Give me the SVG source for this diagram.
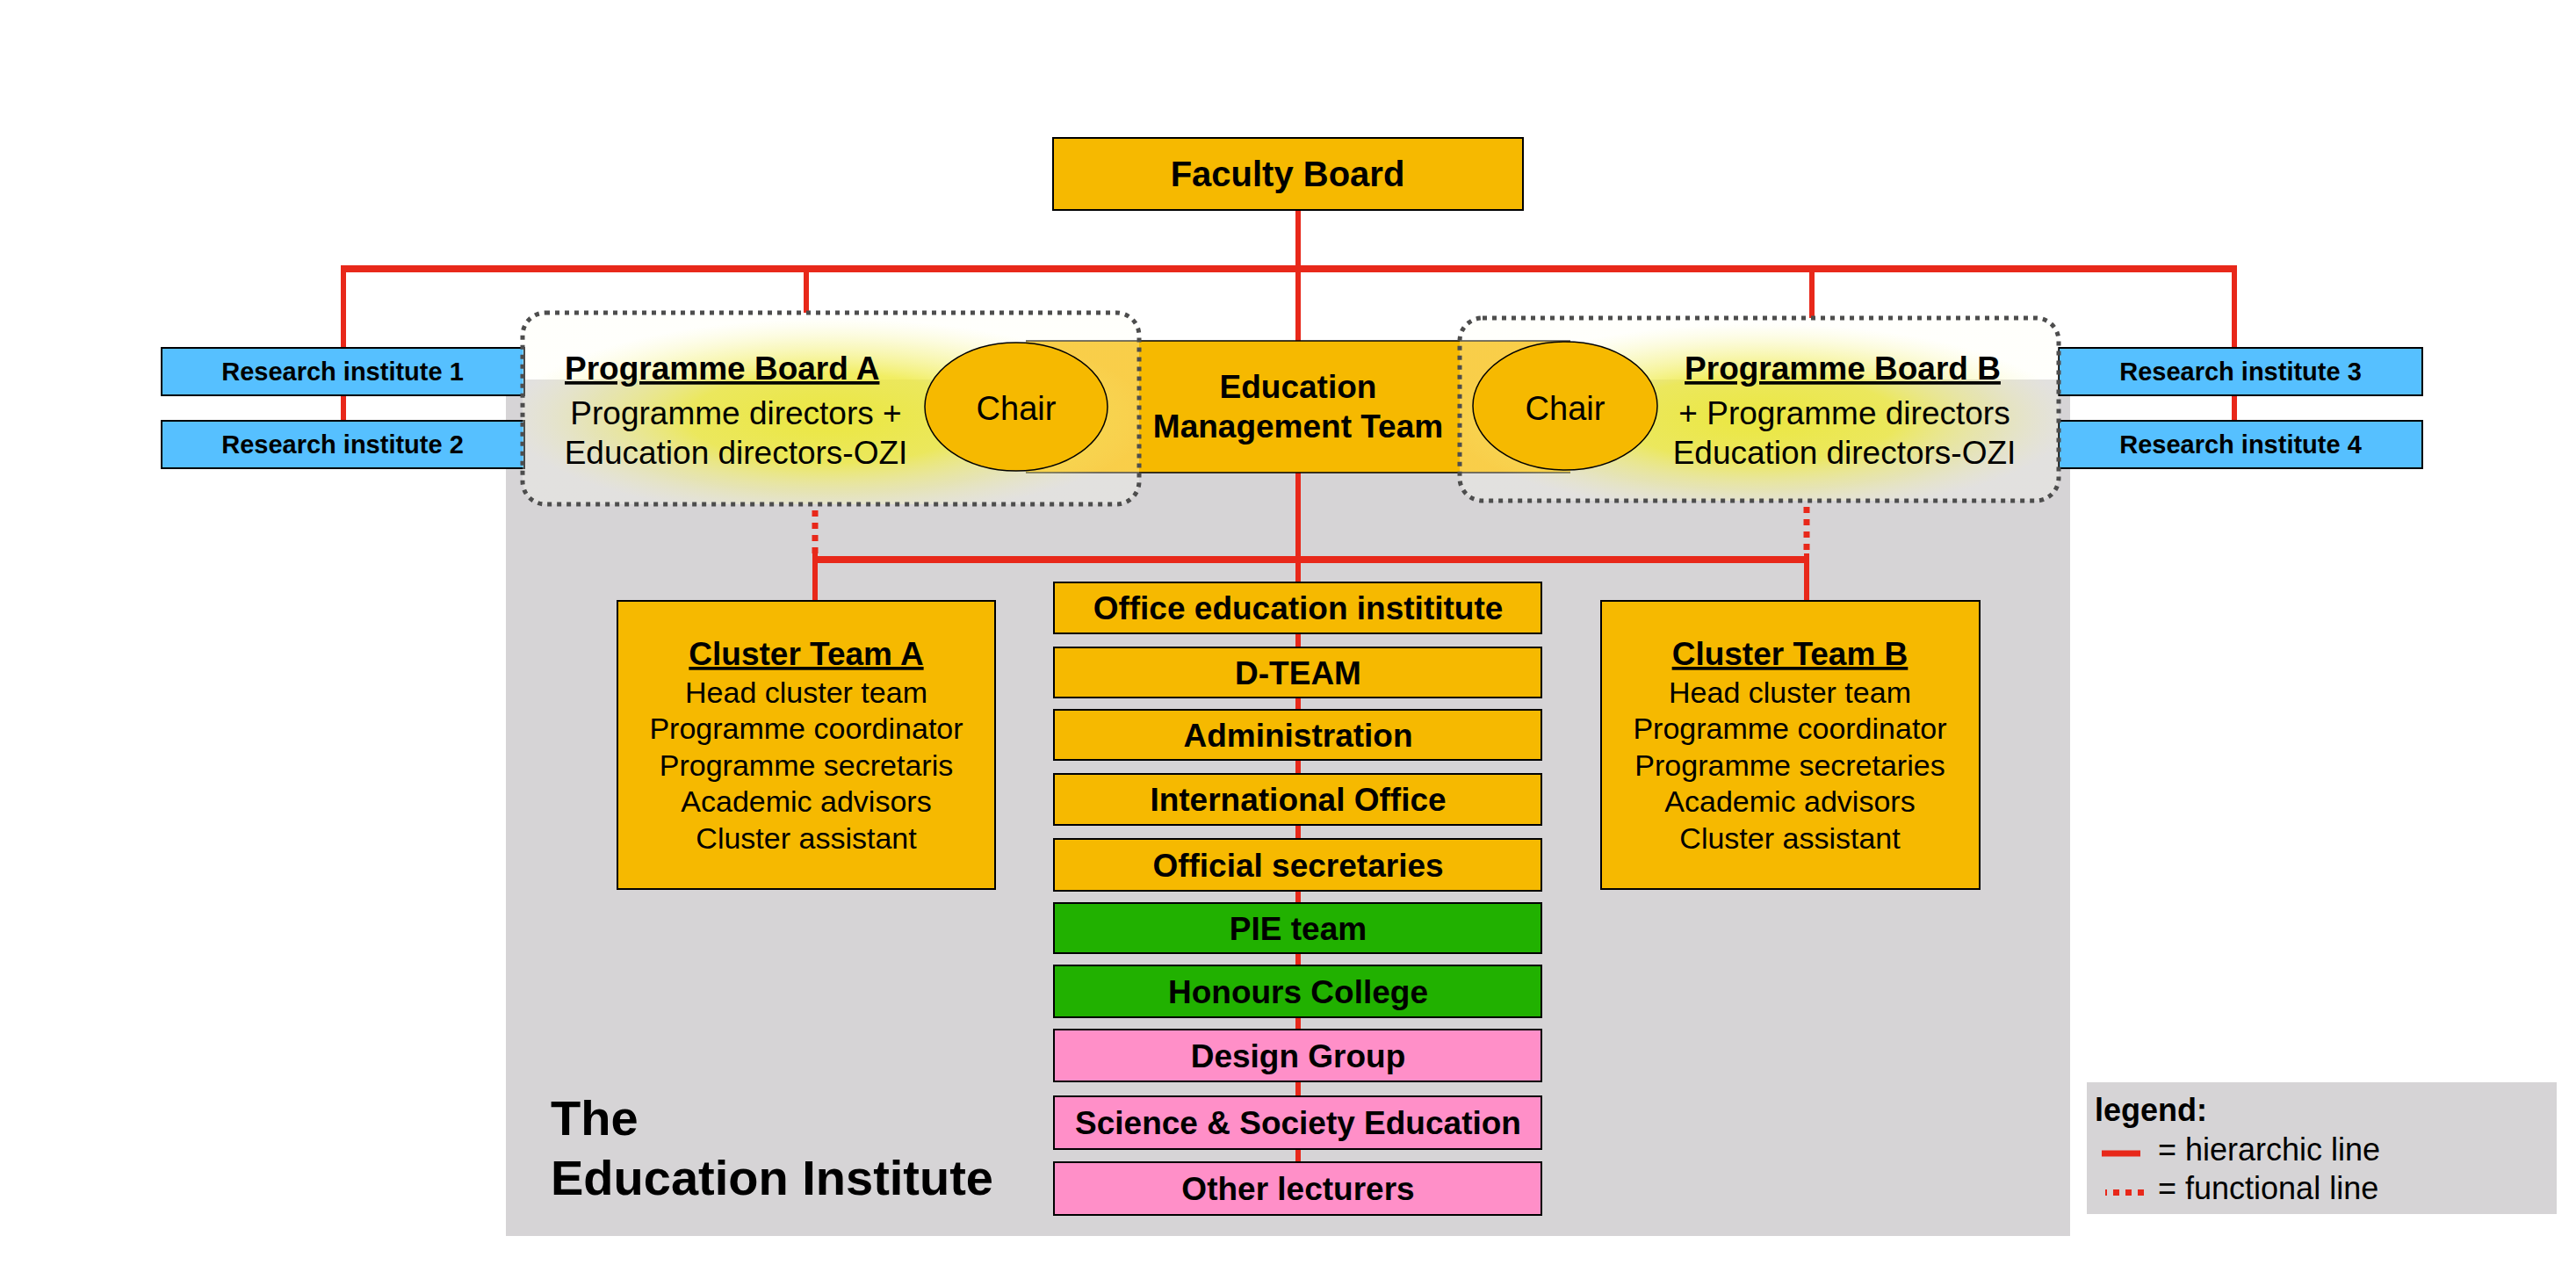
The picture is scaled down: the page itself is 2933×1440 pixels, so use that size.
<svg xmlns="http://www.w3.org/2000/svg" width="2933" height="1440" viewBox="0 0 2933 1440">
<defs>
<radialGradient id="glow" cx="0.5" cy="0.55" r="0.52">
<stop offset="0" stop-color="#ece838" stop-opacity="0.95"/>
<stop offset="0.45" stop-color="#efeb48" stop-opacity="0.85"/>
<stop offset="0.75" stop-color="#f5f392" stop-opacity="0.5"/>
<stop offset="1" stop-color="#fffff4" stop-opacity="0.3"/>
</radialGradient>
</defs>
<style>
text{font-family:"Liberation Sans",Arial,sans-serif;fill:#000}
.b{font-weight:bold}
.u{text-decoration:underline}
.c{text-anchor:middle}
.f37{font-size:37px}
.f34{font-size:34px}
.box{stroke:#000;stroke-width:2}
.org{fill:#f6b900}
.blu{fill:#56c0ff}
.grn{fill:#21b100}
.pnk{fill:#ff8fc8}
.red{stroke:#e8281a;fill:none}
.h{stroke-width:8}
.v{stroke-width:6}
.dash{stroke-width:7;stroke-dasharray:7 7}
.dot{fill:none;stroke:#4d4d4d;stroke-width:5;stroke-dasharray:5 6}
.glow{fill:url(#glow)}
.chair{fill:#f6b900;stroke:#000;stroke-width:1.5}
</style>
<rect width="2933" height="1440" fill="#fff"/>
<rect id="institute-bg" x="576" y="432" width="1781" height="975" fill="#d6d4d6"/>

<g id="connectors">
<line class="red h" x1="388" y1="306" x2="2547" y2="306"/>
<line class="red v" x1="391" y1="306" x2="391" y2="479"/>
<line class="red v" x1="918" y1="306" x2="918" y2="356"/>
<line class="red v" x1="2063" y1="306" x2="2063" y2="362"/>
<line class="red v" x1="2544" y1="306" x2="2544" y2="479"/>
<line class="red v" x1="1478" y1="239" x2="1478" y2="1323"/>
<line class="red dash" x1="928" y1="581" x2="928" y2="630"/>
<line class="red v" x1="928" y1="630" x2="928" y2="684"/>
<line class="red dash" x1="2057" y1="577" x2="2057" y2="630"/>
<line class="red v" x1="2057" y1="630" x2="2057" y2="684"/>
<line class="red h" x1="925" y1="637" x2="2060" y2="637"/>
</g>

<g id="faculty-board">
<rect class="box org" x="1199" y="157" width="535" height="82"/>
<text class="b c" x="1466" y="212" font-size="40">Faculty Board</text>
</g>

<g id="research-institute-1">
<rect class="box blu" x="184" y="396" width="413" height="54"/>
<text class="b c" x="390" y="433" font-size="29">Research institute 1</text>
</g>
<g id="research-institute-2">
<rect class="box blu" x="184" y="479" width="413" height="54"/>
<text class="b c" x="390" y="516" font-size="29">Research institute 2</text>
</g>
<g id="research-institute-3">
<rect class="box blu" x="2344" y="396" width="414" height="54"/>
<text class="b c" x="2551" y="433" font-size="29">Research institute 3</text>
</g>
<g id="research-institute-4">
<rect class="box blu" x="2344" y="479" width="414" height="54"/>
<text class="b c" x="2551" y="516" font-size="29">Research institute 4</text>
</g>

<g id="education-management-team">
<rect class="org" x="1168" y="388" width="620" height="150"/>
<line x1="1168" y1="388" x2="1788" y2="388" stroke="#000" stroke-width="1.5"/>
<line x1="1168" y1="538" x2="1788" y2="538" stroke="#000" stroke-width="1.5"/>
<text class="b c f37" x="1478" y="453">Education</text>
<text class="b c f37" x="1478" y="498">Management Team</text>
</g>

<g id="programme-board-a">
<rect class="glow" x="595" y="356" width="702" height="218" rx="26"/>
<ellipse class="chair" cx="1157" cy="463" rx="104" ry="73"/>
<text class="c" x="1157" y="478" font-size="38">Chair</text>
<rect class="dot" x="595" y="356" width="702" height="218" rx="26"/>
<text class="b u f37" x="643" y="432">Programme Board A</text>
<text class="c f37" x="838" y="483">Programme directors +</text>
<text class="c f37" x="838" y="528">Education directors-OZI</text>
</g>

<g id="programme-board-b">
<rect class="glow" x="1662" y="362" width="682" height="208" rx="26"/>
<ellipse class="chair" cx="1782" cy="462" rx="105" ry="73"/>
<text class="c" x="1782" y="478" font-size="38">Chair</text>
<rect class="dot" x="1662" y="362" width="682" height="208" rx="26"/>
<text class="b u c f37" x="2098" y="432">Programme Board B</text>
<text class="c f37" x="2100" y="483">+ Programme directors</text>
<text class="c f37" x="2100" y="528">Education directors-OZI</text>
</g>

<g id="cluster-team-a">
<rect class="box org" x="703" y="684" width="430" height="328"/>
<text class="b u c f37" x="918" y="757">Cluster Team A</text>
<text class="c f34" x="918" y="800">Head cluster team</text>
<text class="c f34" x="918" y="841">Programme coordinator</text>
<text class="c f34" x="918" y="883">Programme secretaris</text>
<text class="c f34" x="918" y="924">Academic advisors</text>
<text class="c f34" x="918" y="966">Cluster assistant</text>
</g>

<g id="cluster-team-b">
<rect class="box org" x="1823" y="684" width="431" height="328"/>
<text class="b u c f37" x="2038" y="757">Cluster Team B</text>
<text class="c f34" x="2038" y="800">Head cluster team</text>
<text class="c f34" x="2038" y="841">Programme coordinator</text>
<text class="c f34" x="2038" y="883">Programme secretaries</text>
<text class="c f34" x="2038" y="924">Academic advisors</text>
<text class="c f34" x="2038" y="966">Cluster assistant</text>
</g>

<g id="office-education-institute">
<rect class="box org" x="1200" y="663" width="555" height="58"/>
<text class="b c f37" x="1478" y="705">Office education instititute</text>
</g>
<g id="d-team">
<rect class="box org" x="1200" y="737" width="555" height="57"/>
<text class="b c f37" x="1478" y="779">D-TEAM</text>
</g>
<g id="administration">
<rect class="box org" x="1200" y="808" width="555" height="57"/>
<text class="b c f37" x="1478" y="850">Administration</text>
</g>
<g id="international-office">
<rect class="box org" x="1200" y="881" width="555" height="58"/>
<text class="b c f37" x="1478" y="923">International Office</text>
</g>
<g id="official-secretaries">
<rect class="box org" x="1200" y="955" width="555" height="59"/>
<text class="b c f37" x="1478" y="998">Official secretaries</text>
</g>
<g id="pie-team">
<rect class="box grn" x="1200" y="1028" width="555" height="57"/>
<text class="b c f37" x="1478" y="1070">PIE team</text>
</g>
<g id="honours-college">
<rect class="box grn" x="1200" y="1099" width="555" height="59"/>
<text class="b c f37" x="1478" y="1142">Honours College</text>
</g>
<g id="design-group">
<rect class="box pnk" x="1200" y="1172" width="555" height="59"/>
<text class="b c f37" x="1478" y="1215">Design Group</text>
</g>
<g id="science-society-education">
<rect class="box pnk" x="1200" y="1248" width="555" height="60"/>
<text class="b c f37" x="1478" y="1291">Science &amp; Society Education</text>
</g>
<g id="other-lecturers">
<rect class="box pnk" x="1200" y="1323" width="555" height="60"/>
<text class="b c f37" x="1478" y="1366">Other lecturers</text>
</g>

<g id="institute-title">
<text class="b" x="627" y="1292" font-size="56">The</text>
<text class="b" x="627" y="1360" font-size="56">Education Institute</text>
</g>

<g id="legend">
<rect x="2376" y="1232" width="535" height="150" fill="#d6d4d6"/>
<text class="b" x="2385" y="1276" font-size="36">legend:</text>
<line class="red" x1="2393" y1="1313" x2="2437" y2="1313" stroke-width="7"/>
<text x="2457" y="1321" font-size="36">= hierarchic line</text>
<line class="red dash" x1="2397" y1="1357.5" x2="2441" y2="1357.5" stroke-dashoffset="5"/>
<text x="2457" y="1365" font-size="36">= functional line</text>
</g>
</svg>
